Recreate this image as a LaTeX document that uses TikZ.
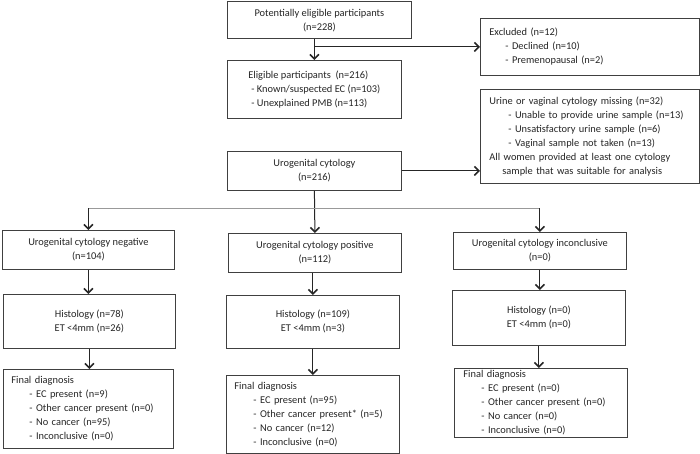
\documentclass[tikz,border=0pt]{standalone}
\usepackage{fontspec}
\setmainfont{Carlito}
\usetikzlibrary{arrows.meta,calc}
\tikzset{
  box/.style={draw=black!75, line width=0.8pt, inner sep=0pt, text=black!85,
    font=\fontsize{10.4}{14}\selectfont},
  cbox/.style={box, align=center, anchor=north west},
  lbox/.style={box, align=left, anchor=north west},
  arr/.style={line width=1pt, draw=black!85,
    -{Straight Barb[length=4.5pt,width=9pt,line width=1.6pt]}},
  split/.style={line width=0.9pt, draw=black!40}
}
\newcommand{\ind}[1]{\hspace*{#1pt}}
\begin{document}
\begin{tikzpicture}[x=1pt,y=-1pt]
\useasboundingbox[fill=white] (0,0) rectangle (700,454);

% top column
\node[cbox, minimum width=184pt, minimum height=36.5pt] (A) at (227,1.5)
  {Potentially eligible participants\\(n=228)};
\node[cbox, minimum width=174pt, minimum height=58pt] (elig) at (227,60)
  {\begin{tabular}{@{}l@{}}Eligible participants\ \ (n=216)\\\ind{3}- Known/suspected EC (n=103)\\\ind{3}- Unexplained PMB (n=113)\end{tabular}};
\node[cbox, minimum width=174pt, minimum height=39pt] (uro) at (227,151)
  {Urogenital cytology\\(n=216)};

% side boxes
\node[lbox, minimum height=57pt, text width=201pt, inner xsep=9pt] (excl) at (480,18)
  {Excluded (n=12)\\\ind{16}- Declined (n=10)\\\ind{16}- Premenopausal (n=2)};
\node[lbox, minimum height=94pt, text width=201pt, inner xsep=9pt] (urine) at (480,89)
  {Urine or vaginal cytology missing (n=32)\\\ind{19}- Unable to provide urine sample (n=13)\\\ind{19}- Unsatisfactory urine sample (n=6)\\\ind{19}- Vaginal sample not taken (n=13)\\All women provided at least one cytology\\\ind{13}sample that was suitable for analysis};

% three branches
\node[cbox, minimum width=172pt, minimum height=39pt] (neg) at (2,230)
  {Urogenital cytology negative\\(n=104)};
\node[cbox, minimum width=173pt, minimum height=39pt] (pos) at (228,233)
  {Urogenital cytology positive\\(n=112)};
\node[cbox, minimum width=173pt, minimum height=37pt] (inc) at (453,232)
  {Urogenital cytology inconclusive\\(n=0)};

\node[cbox, minimum width=172pt, minimum height=54pt] (histN) at (3,294)
  {Histology (n=78)\\ET <4mm (n=26)};
\node[cbox, minimum width=173pt, minimum height=53pt] (histP) at (226,295)
  {Histology (n=109)\\ET <4mm (n=3)};
\node[cbox, minimum width=173pt, minimum height=55pt] (histI) at (452,290)
  {Histology (n=0)\\ET <4mm (n=0)};

\node[lbox, minimum height=79pt, text width=154pt, inner xsep=8pt] (finN) at (3,369)
  {Final diagnosis\\\ind{18}- EC present (n=9)\\\ind{18}- Other cancer present (n=0)\\\ind{18}- No cancer (n=95)\\\ind{18}- Inconclusive (n=0)};
\node[lbox, minimum height=77.5pt, text width=157pt, inner xsep=8pt] (finP) at (226,375)
  {Final diagnosis\\\ind{19}- EC present (n=95)\\\ind{19}- Other cancer present* (n=5)\\\ind{19}- No cancer (n=12)\\\ind{19}- Inconclusive (n=0)};
\node[lbox, minimum height=69pt, text width=155pt, inner xsep=9pt] (finI) at (454,368)
  {Final diagnosis\\\ind{18}- EC present (n=0)\\\ind{18}- Other cancer present (n=0)\\\ind{18}- No cancer (n=0)\\\ind{18}- Inconclusive (n=0)};

% connectors
\draw[arr] (A.south -| elig.north) -- (elig.north);
\draw[arr] (excl.west -| elig.north) -- (excl.west);
\draw[arr] (uro.east) -- (uro.east -| urine.west);
\draw[arr] (uro.south) -- (pos.north);
\coordinate (sp) at (314,208);
\draw[split] (sp -| neg.north) -- (sp -| inc.north);
\draw[arr] (sp -| neg.north) -- (neg.north);
\draw[arr] (sp -| inc.north) -- (inc.north);
\draw[arr] (neg.south) -- (neg.south |- histN.north);
\draw[arr] (histN.south) -- (histN.south |- finN.north);
\draw[arr] (histP.north |- pos.south) -- (histP.north);
\draw[arr] (histP.south) -- (histP.south |- finP.north);
\draw[arr] (inc.south) -- (inc.south |- histI.north);
\draw[arr] (histI.south) -- (histI.south |- finI.north);
\end{tikzpicture}
\end{document}
